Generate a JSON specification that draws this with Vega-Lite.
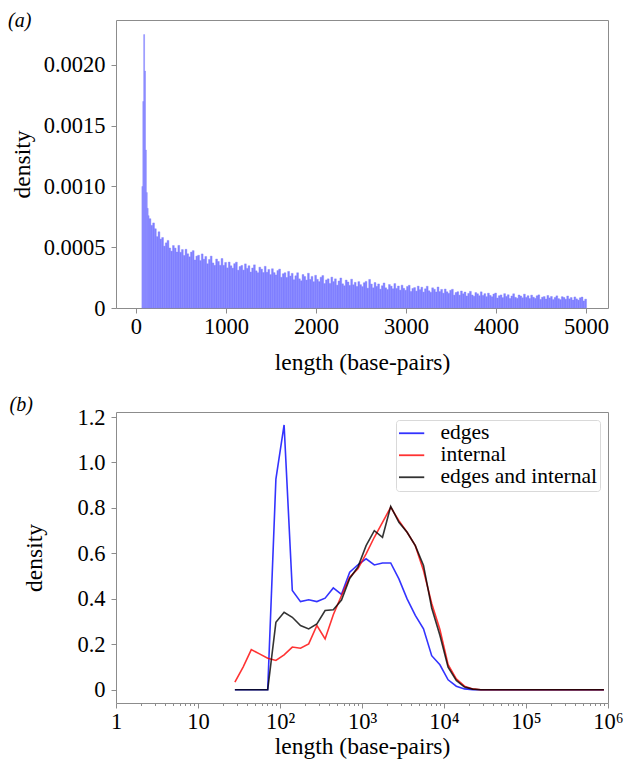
{
  "$schema": "https://vega.github.io/schema/vega-lite/v6.json",
  "background": "white",
  "padding": {"left": 7, "top": 10, "right": 3, "bottom": 3},
  "spacing": 19,
  "resolve": {"legend": {"color": "independent"}},
  "config": {
    "font": "Liberation Serif",
    "view": {"stroke": "#8c8c8c", "strokeWidth": 1},
    "axis": {"grid": false, "domain": false, "tickColor": "#8c8c8c", "tickSize": 5, "labelFont": "Liberation Serif", "labelFontSize": 22.5, "labelColor": "#000000", "titleFont": "Liberation Serif", "titleFontSize": 23.5, "titleFontWeight": "normal", "titleColor": "#000000", "labelPadding": 6, "labelFlush": false},
    "axisX": {"labelPadding": 2},
    "title": {"font": "Liberation Serif", "fontSize": 20, "fontStyle": "italic", "fontWeight": "normal", "anchor": "start", "frame": "group", "color": "#000000"}
  },
  "vconcat": [
    {
      "title": {"text": "(a)", "dx": -108, "offset": -10.5},
      "width": 492,
      "height": 288,
      "data": {"values": [
        {"s":60,"e":70,"d":0.00100},{"s":70,"e":80,"d":0.00170},{"s":80,"e":90,"d":0.00225},{"s":90,"e":100,"d":0.00195},{"s":100,"e":110,"d":0.00130},{"s":110,"e":120,"d":0.00095},{"s":120,"e":130,"d":0.00082},{"s":130,"e":140,"d":0.00076},{"s":140,"e":160,"d":0.000735},{"s":160,"e":180,"d":0.00068},{"s":180,"e":200,"d":0.00070},
        {"s":200,"e":220,"d":0.000652},{"s":220,"e":240,"d":0.000587},{"s":240,"e":260,"d":0.000627},{"s":260,"e":280,"d":0.000567},{"s":280,"e":300,"d":0.000580},{"s":300,"e":320,"d":0.000509},{"s":320,"e":340,"d":0.000536},{"s":340,"e":360,"d":0.000556},{"s":360,"e":380,"d":0.000494},{"s":380,"e":400,"d":0.000468},
        {"s":400,"e":420,"d":0.000514},{"s":420,"e":440,"d":0.000493},{"s":440,"e":460,"d":0.000460},{"s":460,"e":480,"d":0.000515},{"s":480,"e":500,"d":0.000458},{"s":500,"e":520,"d":0.000481},{"s":520,"e":540,"d":0.000432},{"s":540,"e":560,"d":0.000483},{"s":560,"e":580,"d":0.000446},{"s":580,"e":600,"d":0.000421},
        {"s":600,"e":620,"d":0.000460},{"s":620,"e":640,"d":0.000472},{"s":640,"e":660,"d":0.000395},{"s":660,"e":680,"d":0.000427},{"s":680,"e":700,"d":0.000434},{"s":700,"e":720,"d":0.000390},{"s":720,"e":740,"d":0.000445},{"s":740,"e":760,"d":0.000401},{"s":760,"e":780,"d":0.000424},{"s":780,"e":800,"d":0.000364},
        {"s":800,"e":820,"d":0.000399},{"s":820,"e":840,"d":0.000427},{"s":840,"e":860,"d":0.000371},{"s":860,"e":880,"d":0.000351},{"s":880,"e":900,"d":0.000403},{"s":900,"e":920,"d":0.000383},{"s":920,"e":940,"d":0.000351},{"s":940,"e":960,"d":0.000407},{"s":960,"e":980,"d":0.000351},{"s":980,"e":1000,"d":0.000375},
        {"s":1000,"e":1020,"d":0.000330},{"s":1020,"e":1040,"d":0.000378},{"s":1040,"e":1060,"d":0.000347},{"s":1060,"e":1080,"d":0.000328},{"s":1080,"e":1100,"d":0.000365},{"s":1100,"e":1120,"d":0.000377},{"s":1120,"e":1140,"d":0.000311},{"s":1140,"e":1160,"d":0.000341},{"s":1160,"e":1180,"d":0.000350},{"s":1180,"e":1200,"d":0.000312},
        {"s":1200,"e":1220,"d":0.000363},{"s":1220,"e":1240,"d":0.000326},{"s":1240,"e":1260,"d":0.000348},{"s":1260,"e":1280,"d":0.000296},{"s":1280,"e":1300,"d":0.000329},{"s":1300,"e":1320,"d":0.000355},{"s":1320,"e":1340,"d":0.000306},{"s":1340,"e":1360,"d":0.000290},{"s":1360,"e":1380,"d":0.000336},{"s":1380,"e":1400,"d":0.000320},
        {"s":1400,"e":1420,"d":0.000292},{"s":1420,"e":1440,"d":0.000343},{"s":1440,"e":1460,"d":0.000294},{"s":1460,"e":1480,"d":0.000317},{"s":1480,"e":1500,"d":0.000275},{"s":1500,"e":1520,"d":0.000323},{"s":1520,"e":1540,"d":0.000291},{"s":1540,"e":1560,"d":0.000272},{"s":1560,"e":1580,"d":0.000308},{"s":1580,"e":1600,"d":0.000320},
        {"s":1600,"e":1620,"d":0.000253},{"s":1620,"e":1640,"d":0.000282},{"s":1640,"e":1660,"d":0.000290},{"s":1660,"e":1680,"d":0.000251},{"s":1680,"e":1700,"d":0.000301},{"s":1700,"e":1720,"d":0.000263},{"s":1720,"e":1740,"d":0.000285},{"s":1740,"e":1760,"d":0.000232},{"s":1760,"e":1780,"d":0.000265},{"s":1780,"e":1800,"d":0.000290},
        {"s":1800,"e":1820,"d":0.000240},{"s":1820,"e":1840,"d":0.000224},{"s":1840,"e":1860,"d":0.000275},{"s":1860,"e":1880,"d":0.000259},{"s":1880,"e":1900,"d":0.000230},{"s":1900,"e":1920,"d":0.000286},{"s":1920,"e":1940,"d":0.000235},{"s":1940,"e":1960,"d":0.000260},{"s":1960,"e":1980,"d":0.000216},{"s":1980,"e":2000,"d":0.000269},
        {"s":2000,"e":2020,"d":0.000236},{"s":2020,"e":2040,"d":0.000217},{"s":2040,"e":2060,"d":0.000254},{"s":2060,"e":2080,"d":0.000267},{"s":2080,"e":2100,"d":0.000201},{"s":2100,"e":2120,"d":0.000231},{"s":2120,"e":2140,"d":0.000240},{"s":2140,"e":2160,"d":0.000202},{"s":2160,"e":2180,"d":0.000254},{"s":2180,"e":2200,"d":0.000217},
        {"s":2200,"e":2220,"d":0.000240},{"s":2220,"e":2240,"d":0.000188},{"s":2240,"e":2260,"d":0.000222},{"s":2260,"e":2280,"d":0.000247},{"s":2280,"e":2300,"d":0.000199},{"s":2300,"e":2320,"d":0.000183},{"s":2320,"e":2340,"d":0.000230},{"s":2340,"e":2360,"d":0.000214},{"s":2360,"e":2380,"d":0.000186},{"s":2380,"e":2400,"d":0.000237},
        {"s":2400,"e":2420,"d":0.000191},{"s":2420,"e":2440,"d":0.000211},{"s":2440,"e":2460,"d":0.000177},{"s":2460,"e":2480,"d":0.000217},{"s":2480,"e":2500,"d":0.000192},{"s":2500,"e":2520,"d":0.000176},{"s":2520,"e":2540,"d":0.000208},{"s":2540,"e":2560,"d":0.000219},{"s":2560,"e":2580,"d":0.000163},{"s":2580,"e":2600,"d":0.000235},
        {"s":2600,"e":2620,"d":0.000197},{"s":2620,"e":2640,"d":0.000166},{"s":2640,"e":2660,"d":0.000209},{"s":2660,"e":2680,"d":0.000178},{"s":2680,"e":2700,"d":0.000198},{"s":2700,"e":2720,"d":0.000155},{"s":2720,"e":2740,"d":0.000183},{"s":2740,"e":2760,"d":0.000206},{"s":2760,"e":2780,"d":0.000166},{"s":2780,"e":2800,"d":0.000152},
        {"s":2800,"e":2820,"d":0.000193},{"s":2820,"e":2840,"d":0.000180},{"s":2840,"e":2860,"d":0.000158},{"s":2860,"e":2880,"d":0.000201},{"s":2880,"e":2900,"d":0.000161},{"s":2900,"e":2920,"d":0.000181},{"s":2920,"e":2940,"d":0.000147},{"s":2940,"e":2960,"d":0.000188},{"s":2960,"e":2980,"d":0.000162},{"s":2980,"e":3000,"d":0.000146},
        {"s":3000,"e":3020,"d":0.000177},{"s":3020,"e":3040,"d":0.000187},{"s":3040,"e":3060,"d":0.000136},{"s":3060,"e":3080,"d":0.000161},{"s":3080,"e":3100,"d":0.000168},{"s":3100,"e":3120,"d":0.000139},{"s":3120,"e":3140,"d":0.000180},{"s":3140,"e":3160,"d":0.000151},{"s":3160,"e":3180,"d":0.000171},{"s":3180,"e":3200,"d":0.000131},
        {"s":3200,"e":3220,"d":0.000158},{"s":3220,"e":3240,"d":0.000179},{"s":3240,"e":3260,"d":0.000141},{"s":3260,"e":3280,"d":0.000129},{"s":3280,"e":3300,"d":0.000166},{"s":3300,"e":3320,"d":0.000154},{"s":3320,"e":3340,"d":0.000132},{"s":3340,"e":3360,"d":0.000173},{"s":3360,"e":3380,"d":0.000135},{"s":3380,"e":3400,"d":0.000153},
        {"s":3400,"e":3420,"d":0.000122},{"s":3420,"e":3440,"d":0.000156},{"s":3440,"e":3460,"d":0.000133},{"s":3460,"e":3480,"d":0.000120},{"s":3480,"e":3500,"d":0.000146},{"s":3500,"e":3520,"d":0.000154},{"s":3520,"e":3540,"d":0.000106},{"s":3540,"e":3560,"d":0.000127},{"s":3560,"e":3580,"d":0.000134},{"s":3580,"e":3600,"d":0.000106},
        {"s":3600,"e":3620,"d":0.000140},{"s":3620,"e":3640,"d":0.000117},{"s":3640,"e":3660,"d":0.000131},{"s":3660,"e":3680,"d":0.000099},{"s":3680,"e":3700,"d":0.000120},{"s":3700,"e":3720,"d":0.000137},{"s":3720,"e":3740,"d":0.000107},{"s":3740,"e":3760,"d":0.000097},{"s":3760,"e":3780,"d":0.000127},{"s":3780,"e":3800,"d":0.000117},
        {"s":3800,"e":3820,"d":0.000101},{"s":3820,"e":3840,"d":0.000133},{"s":3840,"e":3860,"d":0.000103},{"s":3860,"e":3880,"d":0.000118},{"s":3880,"e":3900,"d":0.000093},{"s":3900,"e":3920,"d":0.000122},{"s":3920,"e":3940,"d":0.000104},{"s":3940,"e":3960,"d":0.000092},{"s":3960,"e":3980,"d":0.000115},{"s":3980,"e":4000,"d":0.000123},
        {"s":4000,"e":4020,"d":0.000082},{"s":4020,"e":4040,"d":0.000101},{"s":4040,"e":4060,"d":0.000108},{"s":4060,"e":4080,"d":0.000085},{"s":4080,"e":4100,"d":0.000118},{"s":4100,"e":4120,"d":0.000095},{"s":4120,"e":4140,"d":0.000109},{"s":4140,"e":4160,"d":0.000078},{"s":4160,"e":4180,"d":0.000099},{"s":4180,"e":4200,"d":0.000117},
        {"s":4200,"e":4220,"d":0.000088},{"s":4220,"e":4240,"d":0.000080},{"s":4240,"e":4260,"d":0.000107},{"s":4260,"e":4280,"d":0.000099},{"s":4280,"e":4300,"d":0.000084},{"s":4300,"e":4320,"d":0.000114},{"s":4320,"e":4340,"d":0.000087},{"s":4340,"e":4360,"d":0.000101},{"s":4360,"e":4380,"d":0.000078},{"s":4380,"e":4400,"d":0.000106},
        {"s":4400,"e":4420,"d":0.000089},{"s":4420,"e":4440,"d":0.000079},{"s":4440,"e":4460,"d":0.000100},{"s":4460,"e":4480,"d":0.000108},{"s":4480,"e":4500,"d":0.000071},{"s":4500,"e":4520,"d":0.000089},{"s":4520,"e":4540,"d":0.000094},{"s":4540,"e":4560,"d":0.000074},{"s":4560,"e":4580,"d":0.000103},{"s":4580,"e":4600,"d":0.000083},
        {"s":4600,"e":4620,"d":0.000095},{"s":4620,"e":4640,"d":0.000069},{"s":4640,"e":4660,"d":0.000087},{"s":4660,"e":4680,"d":0.000100},{"s":4680,"e":4700,"d":0.000077},{"s":4700,"e":4720,"d":0.000069},{"s":4720,"e":4740,"d":0.000093},{"s":4740,"e":4760,"d":0.000086},{"s":4760,"e":4780,"d":0.000072},{"s":4780,"e":4800,"d":0.000099},
        {"s":4800,"e":4820,"d":0.000075},{"s":4820,"e":4840,"d":0.000086},{"s":4840,"e":4860,"d":0.000065},{"s":4860,"e":4880,"d":0.000091},{"s":4880,"e":4900,"d":0.000075},{"s":4900,"e":4920,"d":0.000065},{"s":4920,"e":4940,"d":0.000084},{"s":4940,"e":4960,"d":0.000090},{"s":4960,"e":4980,"d":0.000058},{"s":4980,"e":5000,"d":0.000073}
      ]},
      "mark": {"type": "bar", "color": "#8080ff", "binSpacing": 0, "stroke": "#8080ff", "strokeWidth": 0.4},
      "encoding": {
        "x": {"field": "s", "type": "quantitative", "bin": "binned", "scale": {"domain": [-222, 5244], "nice": false, "zero": false}, "axis": {"values": [0, 1000, 2000, 3000, 4000, 5000], "format": "d", "title": "length (base-pairs)", "titlePadding": 13}},
        "x2": {"field": "e"},
        "y": {"field": "d", "type": "quantitative", "scale": {"domain": [0, 0.00237], "nice": false}, "axis": {"values": [0, 0.0005, 0.001, 0.0015, 0.002], "labelExpr": "datum.value == 0 ? '0' : format(datum.value, '.4f')", "title": "density", "titlePadding": 9}}
      }
    },
    {
      "title": {"text": "(b)", "dx": -106.5, "offset": -9},
      "width": 492,
      "height": 291,
      "data": {"values": [
        {"x":28.18,"edges":0,"internal":0.034,"edges and internal":0},
        {"x":35.48,"edges":0,"internal":0.10,"edges and internal":0},
        {"x":44.67,"edges":0,"internal":0.177,"edges and internal":0},
        {"x":56.23,"edges":0,"internal":0.158,"edges and internal":0},
        {"x":70.79,"edges":0,"internal":0.139,"edges and internal":0},
        {"x":89.13,"edges":0.927,"internal":0.129,"edges and internal":0.297},
        {"x":112.2,"edges":1.165,"internal":0.154,"edges and internal":0.341},
        {"x":141.3,"edges":0.437,"internal":0.188,"edges and internal":0.319},
        {"x":177.8,"edges":0.388,"internal":0.183,"edges and internal":0.283},
        {"x":223.9,"edges":0.396,"internal":0.202,"edges and internal":0.268},
        {"x":281.8,"edges":0.388,"internal":0.283,"edges and internal":0.29},
        {"x":354.8,"edges":0.403,"internal":0.224,"edges and internal":0.349},
        {"x":446.7,"edges":0.448,"internal":0.33,"edges and internal":0.352},
        {"x":562.3,"edges":0.42,"internal":0.415,"edges and internal":0.395},
        {"x":707.9,"edges":0.517,"internal":0.495,"edges and internal":0.49},
        {"x":891.3,"edges":0.55,"internal":0.532,"edges and internal":0.54},
        {"x":1122,"edges":0.576,"internal":0.598,"edges and internal":0.634},
        {"x":1413,"edges":0.549,"internal":0.671,"edges and internal":0.70},
        {"x":1778,"edges":0.558,"internal":0.737,"edges and internal":0.671},
        {"x":2239,"edges":0.558,"internal":0.803,"edges and internal":0.807},
        {"x":2818,"edges":0.488,"internal":0.744,"edges and internal":0.737},
        {"x":3548,"edges":0.40,"internal":0.693,"edges and internal":0.693},
        {"x":4467,"edges":0.327,"internal":0.634,"edges and internal":0.634},
        {"x":5623,"edges":0.268,"internal":0.525,"edges and internal":0.547},
        {"x":7079,"edges":0.15,"internal":0.38,"edges and internal":0.36},
        {"x":8913,"edges":0.11,"internal":0.265,"edges and internal":0.24},
        {"x":11220,"edges":0.044,"internal":0.111,"edges and internal":0.10},
        {"x":14125,"edges":0.016,"internal":0.048,"edges and internal":0.041},
        {"x":17783,"edges":0.004,"internal":0.016,"edges and internal":0.012},
        {"x":22387,"edges":0.001,"internal":0.004,"edges and internal":0.003},
        {"x":28184,"edges":0,"internal":0,"edges and internal":0},
        {"x":35481,"edges":0,"internal":0,"edges and internal":0},
        {"x":44668,"edges":0,"internal":0,"edges and internal":0},
        {"x":56234,"edges":0,"internal":0,"edges and internal":0},
        {"x":70795,"edges":0,"internal":0,"edges and internal":0},
        {"x":89125,"edges":0,"internal":0,"edges and internal":0},
        {"x":112202,"edges":0,"internal":0,"edges and internal":0},
        {"x":141254,"edges":0,"internal":0,"edges and internal":0},
        {"x":177828,"edges":0,"internal":0,"edges and internal":0},
        {"x":223872,"edges":0,"internal":0,"edges and internal":0},
        {"x":281838,"edges":0,"internal":0,"edges and internal":0},
        {"x":354813,"edges":0,"internal":0,"edges and internal":0},
        {"x":446684,"edges":0,"internal":0,"edges and internal":0},
        {"x":562341,"edges":0,"internal":0,"edges and internal":0},
        {"x":707946,"edges":0,"internal":0,"edges and internal":0},
        {"x":891251,"edges":0,"internal":0,"edges and internal":0}
      ]},
      "transform": [{"fold": ["edges", "internal", "edges and internal"], "as": ["series", "d"]}],
      "mark": {"type": "line", "strokeWidth": 1.6, "strokeOpacity": 0.8},
      "encoding": {
        "x": {"field": "x", "type": "quantitative", "scale": {"type": "log", "domain": [1, 1000000], "nice": false}, "axis": {"values": [1,2,3,4,5,6,7,8,9,10,20,30,40,50,60,70,80,90,100,200,300,400,500,600,700,800,900,1000,2000,3000,4000,5000,6000,7000,8000,9000,10000,20000,30000,40000,50000,60000,70000,80000,90000,100000,200000,300000,400000,500000,600000,700000,800000,900000,1000000], "labelExpr": "datum.value==1?'1':datum.value==10?'10':datum.value==100?'10²':datum.value==1000?'10³':datum.value==10000?'10⁴':datum.value==100000?'10⁵':datum.value==1000000?'10⁶':''", "tickSize": {"condition": {"test": "indexof([1,10,100,1000,10000,100000,1000000], datum.value) >= 0", "value": 5}, "value": 2.5}, "labelOverlap": false, "title": "length (base-pairs)", "titlePadding": 2}},
        "y": {"field": "d", "type": "quantitative", "scale": {"domain": [-0.058, 1.222], "nice": false, "zero": false}, "axis": {"values": [0, 0.2, 0.4, 0.6, 0.8, 1.0, 1.2], "labelExpr": "datum.value == 0 ? '0' : format(datum.value, '.1f')", "title": "density", "titlePadding": 30}},
        "color": {"field": "series", "type": "nominal", "scale": {"domain": ["edges", "internal", "edges and internal"], "range": ["#0000ff", "#ff0000", "#000000"]}, "legend": {"title": null, "orient": "top-right", "offset": 8, "padding": 3, "strokeColor": "#d9d9d9", "cornerRadius": 3, "fillColor": "white", "labelFont": "Liberation Serif", "labelFontSize": 21.5, "labelColor": "#000000", "symbolType": "M-2,0H2", "symbolSize": 210, "symbolStrokeWidth": 1.8, "symbolOpacity": 0.8, "labelOffset": 20, "rowPadding": 0, "clipHeight": 20.5, "labelLimit": 400}}
      }
    }
  ]
}
